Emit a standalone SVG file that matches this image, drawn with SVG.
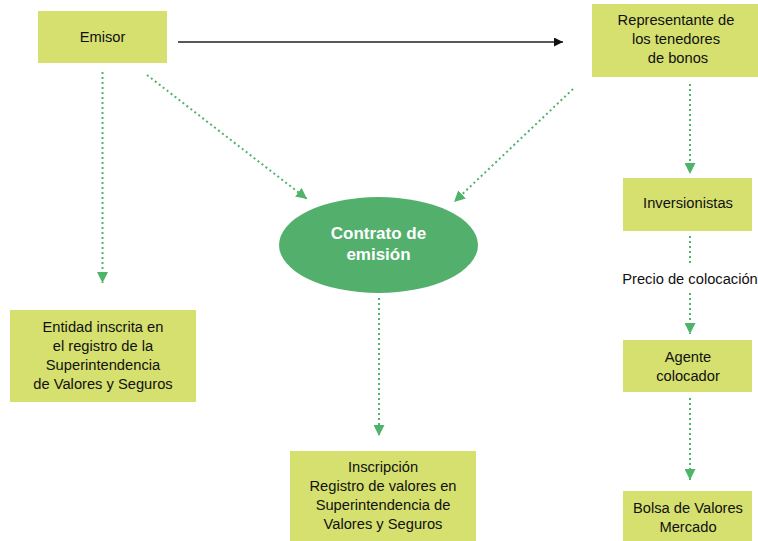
<svg xmlns="http://www.w3.org/2000/svg" width="758" height="541" viewBox="0 0 758 541">
<style>
.box{fill:#d5e06f}
.t{font-family:"Liberation Sans",Arial,sans-serif;font-size:14.7px;fill:#111;text-anchor:middle}
.w{font-family:"Liberation Sans",Arial,sans-serif;font-size:17px;font-weight:bold;fill:#fff;text-anchor:middle}
.d{stroke:#4fb36a;stroke-width:2;stroke-dasharray:2 3;fill:none}
</style>
<defs>
<marker id="ga" viewBox="0 0 10 10" refX="10" refY="5" markerWidth="5.5" markerHeight="5.5" orient="auto" markerUnits="strokeWidth"><path d="M0,0 L10,5 L0,10 z" fill="#4fb36a"/></marker>
<marker id="ba" viewBox="0 0 10 10" refX="10" refY="5" markerWidth="6" markerHeight="6" orient="auto" markerUnits="strokeWidth"><path d="M0,0 L10,5 L0,10 z" fill="#111"/></marker>
</defs>
<rect width="758" height="541" fill="#fff"/>
<g id="connectors">
<line x1="178" y1="42" x2="563" y2="42" stroke="#222" stroke-width="1.5" marker-end="url(#ba)"/>
<line class="d" x1="102.5" y1="72" x2="102.5" y2="283" marker-end="url(#ga)"/>
<line class="d" x1="147" y1="75" x2="307" y2="199" marker-end="url(#ga)"/>
<line class="d" x1="573" y1="89" x2="454" y2="202" marker-end="url(#ga)"/>
<line class="d" x1="690" y1="84" x2="690" y2="174" marker-end="url(#ga)"/>
<line class="d" x1="690" y1="236" x2="690" y2="264"/>
<line class="d" x1="690" y1="293" x2="690" y2="334" marker-end="url(#ga)"/>
<line class="d" x1="690" y1="398" x2="690" y2="480" marker-end="url(#ga)"/>
<line class="d" x1="379" y1="298" x2="379" y2="436" marker-end="url(#ga)"/>
<text class="t" x="690" y="284">Precio de colocación</text>
</g>
<g id="emisor"><rect class="box" x="38" y="11" width="129" height="52"/><text class="t" x="102.5" y="42">Emisor</text></g>
<g id="representante"><rect class="box" x="592" y="4" width="166" height="73"/><text class="t" x="676" y="25">Representante de</text><text class="t" x="676" y="44">los tenedores</text><text class="t" x="678" y="63">de bonos</text></g>
<g id="contrato"><ellipse cx="378.5" cy="245" rx="99.5" ry="48" fill="#52b06c"/><text class="w" x="378.5" y="239">Contrato de</text><text class="w" x="378.5" y="260">emisión</text></g>
<g id="entidad"><rect class="box" x="10" y="310" width="186" height="92"/><text class="t" x="103" y="332">Entidad inscrita en</text><text class="t" x="103" y="351">el registro de la</text><text class="t" x="103" y="370">Superintendencia</text><text class="t" x="103" y="389">de Valores y Seguros</text></g>
<g id="inscripcion"><rect class="box" x="290" y="451" width="186" height="90"/><text class="t" x="383" y="472">Inscripción</text><text class="t" x="383" y="491">Registro de valores en</text><text class="t" x="383" y="510">Superintendencia de</text><text class="t" x="383" y="529">Valores y Seguros</text></g>
<g id="inversionistas"><rect class="box" x="623" y="178" width="129" height="53"/><text class="t" x="688" y="208">Inversionistas</text></g>
<g id="agente"><rect class="box" x="623" y="340" width="129" height="52"/><text class="t" x="688" y="362">Agente</text><text class="t" x="688" y="381">colocador</text></g>
<g id="bolsa"><rect class="box" x="623" y="491" width="129" height="50"/><text class="t" x="688" y="513">Bolsa de Valores</text><text class="t" x="688" y="532">Mercado</text></g>
</svg>
